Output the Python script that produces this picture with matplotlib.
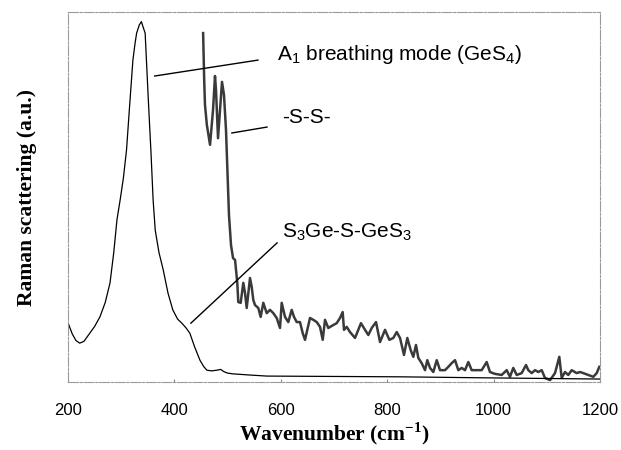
import matplotlib.pyplot as plt

# main Raman spectrum (thin black)
wn_main = [200, 208, 215, 222, 230, 241, 250, 260, 270, 279, 286, 292, 295, 298, 304, 310, 316, 322, 326, 329,
           334, 338, 341, 345, 351, 356, 360, 364, 371, 379, 388, 397, 406, 414, 422, 429, 438, 448, 455, 461,
           470, 480, 487, 493, 500, 510, 540, 574, 700, 824, 1000, 1200]
int_main = [16.0, 13.0, 11.2, 10.5, 11.0, 13.2, 15.0, 17.6, 21.5, 26.8, 35.0, 43.8, 46.5, 49.2, 55.0, 62.7, 75.0, 87.0, 91.5, 94.3,
            96.5, 97.4, 96.0, 94.3, 76.2, 62.0, 49.2, 41.0, 35.0, 30.3, 24.0, 19.5, 17.0, 15.9, 14.6, 13.2, 9.5, 5.9, 4.2, 3.2,
            3.0, 3.2, 3.4, 2.8, 2.4, 2.2, 1.9, 1.6, 1.5, 1.4, 1.1, 0.8]

# magnified high-wavenumber part (thick, noisy)
wn_zoom = [454, 456, 457.5, 461, 467, 472.6, 476.3, 478.2, 482, 485.7, 489.5, 493.2, 497, 498.9, 500.8, 502.6, 506.4, 510.2,
           514, 515.8, 518.2, 520.1, 524.6, 529.5, 532.7, 535.9, 542.1, 545.3, 548.3, 551.5, 557.7, 562.2, 567.1, 573.5,
           579.7, 585.9, 592.3, 598.5, 601.7, 607.9, 614.1, 620.5, 624.8, 629.9, 636.1, 641.2, 645.5, 649.8, 654.9, 661.1,
           667.5, 673.7, 678.8, 683.1, 689.3, 698.7, 705.1, 711.3, 716.3, 718.8, 723.9, 730.1, 739.5, 745.7, 750.7, 758.3,
           764.5, 770.9, 779, 786.5, 795.9, 804, 811.5, 817.9, 824.1, 831.6, 837.8, 844.2, 849.1, 854.1, 858.5, 864.8,
           871.1, 875.4, 880.5, 886.7, 893.1, 899.3, 908.7, 914.9, 921.3, 927.5, 933.7, 940.1, 946.3, 952.5, 958.8, 968.2,
           977.6, 987, 993.2, 1002.6, 1015.2, 1024.6, 1030.8, 1037, 1043.4, 1052.8, 1060.9, 1065.2, 1071.6, 1077.8, 1084,
           1090.4, 1096.6, 1106, 1115.4, 1123.5, 1128, 1134.2, 1140.4, 1146.8, 1156.2, 1162.4, 1168.6, 1178, 1187.4,
           1193.8, 1198.7]
int_zoom = [94.3, 81.6, 74.9, 69.5, 64.1, 73.5, 82.7, 78.9, 65.9, 73.5, 81.1, 77.6, 68.1, 60.0, 51.9, 45.1, 37.0, 33.5,
            33.0, 30.3, 26.8, 21.6, 21.4, 26.8, 24.1, 20.0, 28.1, 25.7, 22.2, 20.8, 20.0, 17.6, 21.4, 18.6,
            19.5, 18.6, 17.3, 14.6, 21.4, 17.6, 16.2, 19.5, 17.6, 16.2, 16.2, 13.2, 11.4, 14.1, 17.3, 16.8,
            16.2, 14.9, 11.4, 16.8, 14.6, 15.4, 15.9, 17.3, 18.9, 14.1, 14.9, 13.5, 11.9, 14.1, 15.9, 14.1,
            12.7, 14.6, 16.2, 10.8, 14.1, 11.4, 11.9, 13.5, 11.9, 7.3, 11.9, 8.6, 6.8, 10.0, 6.5, 5.1,
            3.2, 5.9, 3.8, 2.7, 5.9, 3.2, 3.2, 4.1, 5.1, 5.9, 3.2, 3.8, 3.2, 5.4, 3.2, 3.2,
            3.2, 5.4, 2.7, 2.2, 1.9, 3.2, 1.4, 3.8, 1.9, 2.4, 4.6, 3.2, 2.4, 3.2, 2.7,
            3.2, 1.1, 0.5, 2.4, 6.8, 1.1, 2.7, 1.9, 3.2, 2.4, 2.7, 2.4, 1.9, 1.4,
            2.4, 4.1]

xticks = [200, 400, 600, 800, 1000, 1200]

# annotations: text, text position, leader line (x0, y0, x1, y1)
labels = [r'A$_\mathregular{1}$ breathing mode (GeS$_\mathregular{4}$)',
          '-S-S-',
          r'S$_\mathregular{3}$Ge-S-GeS$_\mathregular{3}$']
label_xy = [(593, 88.4), (602, 71.6), (602, 40.5)]
leaders = [(363, 82.7, 557, 87.0), (508, 67.3, 574, 68.9), (431, 15.9, 593, 37.6)]

fig = plt.figure(figsize=(6.21, 4.5), dpi=100)
ax = fig.add_axes([68 / 621, 68 / 450, 532 / 621, 370 / 450])

ax.plot(wn_zoom, int_zoom, color='#3a3a3a', lw=1.8, solid_joinstyle='round')
ax.plot(wn_main, int_main, color='black', lw=0.9)

for (x0, y0, x1, y1) in leaders:
    ax.plot([x0, x1], [y0, y1], color='black', lw=1.0)
for txt, (tx, ty) in zip(labels, label_xy):
    ax.text(tx, ty, txt, fontsize=15, family='Liberation Sans', va='center', ha='left')

ax.set_xlim(200, 1200)
ax.set_ylim(0, 100)
ax.set_xticks(xticks)
ax.set_yticks([])
ax.tick_params(axis='x', length=2, direction='in', color='#888888', pad=15)
for lab in ax.get_xticklabels():
    lab.set_family('Liberation Sans')
    lab.set_fontsize(12)

for sp in ax.spines.values():
    sp.set_color('#9a9a9a')
    sp.set_linewidth(0.8)
    sp.set_linestyle((0, (9, 1.5, 2, 1.5)))

ax.set_xlabel(r'Wavenumber (cm$^\mathregular{-1}$)', family='Liberation Serif', fontweight='bold',
              fontsize=15.5, labelpad=2)
ax.set_ylabel('Raman scattering (a.u.)', family='Liberation Serif', fontweight='bold',
              fontsize=15.5, labelpad=22)

fig.savefig('out.png', dpi=100)
